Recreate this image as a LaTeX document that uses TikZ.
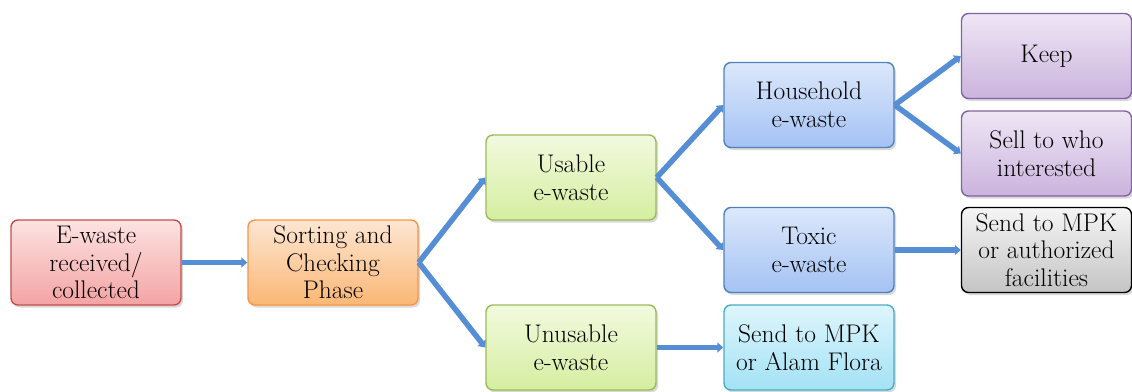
\documentclass[tikz,border=0pt]{standalone}
\usepackage{fontspec}
\usetikzlibrary{arrows.meta,shadows}
\definecolor{arrowblue}{HTML}{558ED5}
\definecolor{redT}{HTML}{FDE2E2}\definecolor{redB}{HTML}{F4A3A3}\definecolor{redD}{HTML}{C0504D}
\definecolor{orT}{HTML}{FDE6D2}\definecolor{orB}{HTML}{FAB775}\definecolor{orD}{HTML}{F79646}
\definecolor{grT}{HTML}{F2FADF}\definecolor{grB}{HTML}{D5EEA0}\definecolor{grD}{HTML}{9BBB59}
\definecolor{blT}{HTML}{DCE8FB}\definecolor{blB}{HTML}{A4C2F4}\definecolor{blD}{HTML}{4F81BD}
\definecolor{puT}{HTML}{EFE6F5}\definecolor{puB}{HTML}{CBB3DD}\definecolor{puD}{HTML}{8064A2}
\definecolor{gyT}{HTML}{F5F5F5}\definecolor{gyB}{HTML}{C4C4C4}
\definecolor{cyT}{HTML}{DEF5FC}\definecolor{cyB}{HTML}{A3E2F5}\definecolor{cyD}{HTML}{4BACC6}
\tikzset{
  box/.style={rounded corners=7pt, line width=1.4pt, minimum width=170pt, minimum height=85pt,
    align=center, inner sep=2pt, font=\rmfamily\fontsize{25.5}{27.5}\selectfont,
    drop shadow={shadow xshift=2pt, shadow yshift=-2.5pt, opacity=0.25, fill=black!60}},
  redbox/.style={box, draw=redD, top color=redT, bottom color=redB},
  orangebox/.style={box, draw=orD, top color=orT, bottom color=orB},
  greenbox/.style={box, draw=grD, top color=grT, bottom color=grB},
  bluebox/.style={box, draw=blD, top color=blT, bottom color=blB},
  purplebox/.style={box, draw=puD, top color=puT, bottom color=puB},
  graybox/.style={box, draw=black, top color=gyT, bottom color=gyB},
  cyanbox/.style={box, draw=cyD, top color=cyT, bottom color=cyB},
  conn/.style={draw=arrowblue, line width=5.5pt, -{Triangle[width=10pt,length=6pt]}}
}
\begin{document}
\begin{tikzpicture}[x=1pt,y=-1pt]
\useasboundingbox (0,0) rectangle (1132,391);
\node[redbox] (recv) at (96,262.5) {E-waste\\received/\\collected};
\node[orangebox] (sort) at (333,262.5) {Sorting and\\Checking\\Phase};
\node[greenbox] (usable) at (571,177.5) {Usable\\e-waste};
\node[greenbox] (unusable) at (571,347.5) {Unusable\\e-waste};
\node[bluebox] (house) at (809,105) {Household\\e-waste};
\node[bluebox] (toxic) at (809,250) {Toxic\\e-waste};
\node[cyanbox] (alam) at (809,347.5) {Send to MPK\\or Alam Flora};
\node[purplebox] (keep) at (1046.5,56) {Keep};
\node[purplebox] (sell) at (1046.5,153.5) {Sell to who\\interested};
\node[graybox] (auth) at (1046.5,250) {Send to MPK\\or authorized\\facilities};
\draw[conn] (recv.east) -- (sort.west);
\draw[conn] (sort.east) -- (usable.west);
\draw[conn] (sort.east) -- (unusable.west);
\draw[conn] (usable.east) -- (house.west);
\draw[conn] (usable.east) -- (toxic.west);
\draw[conn] (house.east) -- (keep.west);
\draw[conn] (house.east) -- (sell.west);
\draw[conn] (toxic.east) -- (auth.west);
\draw[conn] (unusable.east) -- (alam.west);
\end{tikzpicture}
\end{document}
